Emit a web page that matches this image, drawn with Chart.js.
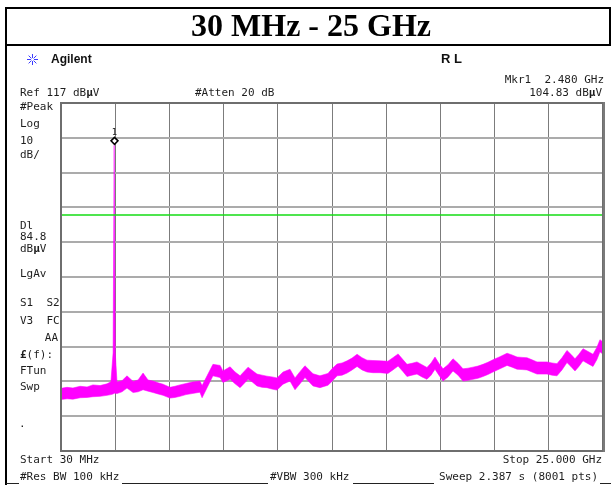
<!DOCTYPE html>
<html>
<head>
<meta charset="utf-8">
<script src="https://cdn.jsdelivr.net/npm/chart.js@4.4.1/dist/chart.umd.min.js"></script>
<style>
  html, body { margin: 0; padding: 0; background: #fff; }
  canvas { display: block; }
</style>
</head>
<body>
<canvas id="js-chart-canvas" width="611" height="485"></canvas>
<script>
// Spectrum analyzer sweep 30 MHz - 25 GHz (peak detector, min/max envelope)

const startFreq = 0.03; // GHz
const stopFreq = 25.0; // GHz
const refLevel = 117; // dBuV
const bottomLevel = 17; // dBuV
const displayLine = 84.8; // dBuV
const markerFreq = 2.48; // GHz
const markerLevel = 104.83; // dBuV

const freqs = [
  0.03, 0.31, 0.58, 0.91, 1.23, 1.50, 1.83, 2.15, 2.33, 2.43, 2.48, 2.53, 2.61, 2.84,
  3.07, 3.35, 3.58, 3.81, 4.04, 4.27, 4.50, 4.73, 5.05, 5.28, 5.51, 5.79, 6.07, 6.43,
  6.53, 6.76, 7.03, 7.36, 7.49, 7.82, 8.05, 8.28, 8.65, 8.83, 9.06, 9.29, 9.52, 9.75,
  9.98, 10.26, 10.58, 10.81, 11.04, 11.27, 11.64, 11.96, 12.33, 12.51, 12.75, 12.98,
  13.21, 13.44, 13.67, 13.90, 14.13, 14.40, 14.73, 15.09, 15.32, 15.56, 15.79, 15.97,
  16.20, 16.43, 16.66, 16.89, 17.08, 17.26, 17.44, 17.63, 17.86, 18.09, 18.32, 18.55,
  18.78, 19.01, 19.24, 19.47, 19.70, 19.93, 20.25, 20.58, 20.81, 21.04, 21.27, 21.50,
  21.73, 21.96, 22.19, 22.42, 22.65, 22.88, 23.11, 23.34, 23.52, 23.71, 23.89, 24.08,
  24.31, 24.54, 24.72, 24.86, 25.00
];

const traceHigh = [
  35.0, 35.3, 35.1, 35.6, 35.4, 36.0, 35.8, 36.3, 36.9, 45.2, 104.83, 45.2, 36.8, 37.2,
  38.6, 37.0, 37.4, 39.4, 37.4, 37.1, 36.6, 36.2, 35.3, 35.6, 36.0, 36.4, 36.8, 37.1,
  35.8, 38.6, 41.9, 41.6, 40.0, 41.2, 39.7, 38.6, 41.1, 40.2, 39.1, 38.8, 38.5, 38.3,
  38.0, 39.7, 40.5, 38.0, 39.8, 41.5, 39.2, 38.6, 39.3, 40.6, 42.0, 42.3,
  42.9, 43.7, 44.8, 43.8, 43.1, 43.0, 42.9, 42.8, 43.8, 44.9, 43.2, 41.9,
  42.2, 42.6, 41.8, 41.0, 42.3, 44.0, 42.2, 40.6, 41.8, 43.5, 42.2, 40.6,
  40.8, 41.1, 41.4, 41.9, 42.5, 43.2, 44.1, 45.1, 44.6, 44.0, 43.9, 43.8,
  43.2, 42.6, 42.6, 42.6, 42.3, 42.1, 43.8, 45.9, 44.8, 43.5, 44.8, 46.4,
  45.6, 44.8, 46.8, 49.0, 48.3
];

const traceLow = [
  31.8, 32.0, 31.9, 32.3, 32.4, 32.6, 32.7, 33.0, 33.2, 33.4, 33.6, 33.6, 33.5, 34.0,
  35.1, 33.8, 34.0, 34.6, 34.2, 33.8, 33.4, 33.0, 32.2, 32.4, 32.7, 33.2, 33.5, 33.9,
  32.3, 35.2, 38.6, 38.1, 36.7, 37.6, 36.3, 35.2, 37.6, 36.9, 35.7, 35.3, 35.2, 34.8,
  34.5, 36.2, 37.1, 34.6, 36.3, 38.1, 35.7, 35.2, 35.9, 37.0, 38.6, 38.8,
  39.4, 40.3, 41.3, 40.3, 39.7, 39.5, 39.5, 39.3, 40.3, 41.4, 39.8, 38.4,
  38.8, 39.1, 38.3, 37.6, 38.8, 40.5, 38.8, 37.1, 38.3, 40.0, 38.8, 37.1,
  37.3, 37.6, 37.9, 38.4, 39.0, 39.7, 40.6, 41.6, 41.1, 40.5, 40.4, 40.3,
  39.7, 39.1, 39.1, 39.1, 38.8, 38.6, 40.3, 42.4, 41.3, 40.0, 41.3, 42.9,
  42.1, 41.3, 43.3, 45.5, 44.8
];

// graticule: 10 divisions each way
const xGrid = [0.03, 2.527, 5.024, 7.521, 10.018, 12.515, 15.012, 17.509, 20.006, 22.503, 25.0];
const yGrid = [17, 27, 37, 47, 57, 67, 77, 87, 97, 107, 117];

const canvasContext = document.querySelector("#js-chart-canvas").getContext("2d");

const MAGENTA = "#ff00ff";
const mono = '11px "DejaVu Sans Mono"';
const monoBold = 'bold 11px "DejaVu Sans Mono"';

function drawRuns(ctx, runs, x, y, align) {
  let width = 0;
  runs.forEach(([t, bold]) => {
    ctx.font = bold ? monoBold : mono;
    width += ctx.measureText(t).width;
  });
  let cx = align === "right" ? x - width : x;
  ctx.textAlign = "left";
  runs.forEach(([t, bold]) => {
    ctx.font = bold ? monoBold : mono;
    ctx.fillText(t, cx, y);
    cx += ctx.measureText(t).width;
  });
}

const screenDraw = {
  id: "screenDraw",

  afterDatasetsDraw(chart) {
    const {
      ctx,
      chartArea: { top, bottom, left, right },
      scales: { x, y },
    } = chart;

    ctx.save();
    // graticule frame
    ctx.strokeStyle = "#6e6e6e";
    ctx.lineWidth = 2;
    ctx.strokeRect(left, top, right - left, bottom - top);
    ctx.fillStyle = "#7a7a7a";
    ctx.fillRect(right, top - 1, 2, bottom - top + 2);

    // marker 1 diamond sitting on the peak
    const mx = Math.round(x.getPixelForValue(markerFreq)) + 0.5;
    const my = y.getPixelForValue(markerLevel);
    ctx.beginPath();
    ctx.moveTo(mx, my - 8);
    ctx.lineTo(mx + 3.5, my - 4.5);
    ctx.lineTo(mx, my - 1);
    ctx.lineTo(mx - 3.5, my - 4.5);
    ctx.closePath();
    ctx.fillStyle = "#fff";
    ctx.fill();
    ctx.strokeStyle = "#000";
    ctx.lineWidth = 1.5;
    ctx.stroke();
    ctx.fillStyle = "#222";
    ctx.font = '9px "DejaVu Sans Mono"';
    ctx.textAlign = "center";
    ctx.textBaseline = "middle";
    ctx.fillText("1", mx, my - 13);
    ctx.restore();
  },

  afterDraw(chart) {
    const ctx = chart.ctx;
    ctx.save();

    // title box
    ctx.strokeStyle = "#000";
    ctx.lineWidth = 2;
    ctx.strokeRect(6, 8, 604, 37);
    ctx.beginPath();
    ctx.moveTo(6, 45);
    ctx.lineTo(6, 485);
    ctx.stroke();
    ctx.fillStyle = "#000";
    ctx.font = 'bold 32px "Liberation Serif"';
    ctx.textAlign = "center";
    ctx.textBaseline = "alphabetic";
    ctx.fillText("30 MHz - 25 GHz", 311, 36);

    // logo
    ctx.strokeStyle = "#3b3bff";
    ctx.lineWidth = 1;
    const sx = 32.5, sy = 59.5;
    for (let i = 0; i < 8; i++) {
      const a = (i * Math.PI) / 4;
      ctx.beginPath();
      ctx.moveTo(sx + Math.cos(a) * 1.5, sy + Math.sin(a) * 1.5);
      ctx.lineTo(sx + Math.cos(a) * 5.5, sy + Math.sin(a) * 5.5);
      ctx.stroke();
    }
    ctx.fillStyle = "#111";
    ctx.textBaseline = "middle";
    ctx.textAlign = "left";
    ctx.font = 'bold 12px "Liberation Sans"';
    ctx.fillText("Agilent", 51, 60);
    ctx.font = 'bold 13px "Liberation Sans"';
    ctx.fillText("R L", 441, 59);

    ctx.fillStyle = "#1e1e1e";
    drawRuns(ctx, [["Mkr1  " + markerFreq.toFixed(3) + " GHz"]], 604, 80, "right");
    drawRuns(ctx, [["Ref " + refLevel + " dB"], ["\u03bc", true], ["V"]], 20, 93, "left");
    drawRuns(ctx, [["#Atten 20 dB"]], 195, 93, "left");
    drawRuns(ctx, [[markerLevel.toFixed(2) + " dB"], ["\u03bc", true], ["V"]], 602, 93, "right");

    // left status panel
    drawRuns(ctx, [["#Peak"]], 20, 107, "left");
    drawRuns(ctx, [["Log"]], 20, 124, "left");
    drawRuns(ctx, [["10"]], 20, 141, "left");
    drawRuns(ctx, [["dB/"]], 20, 155, "left");
    drawRuns(ctx, [["Dl"]], 20, 226, "left");
    drawRuns(ctx, [[displayLine.toFixed(1)]], 20, 237, "left");
    drawRuns(ctx, [["dB"], ["\u03bc", true], ["V"]], 20, 249, "left");
    drawRuns(ctx, [["LgAv"]], 20, 274, "left");
    drawRuns(ctx, [["S1  S2"]], 20, 303, "left");
    drawRuns(ctx, [["V3  FC"]], 20, 321, "left");
    drawRuns(ctx, [["AA"]], 58, 338, "right");
    drawRuns(ctx, [["\u00a3", true], ["(f):"]], 20, 355, "left");
    drawRuns(ctx, [["FTun"]], 20, 371, "left");
    drawRuns(ctx, [["Swp"]], 20, 387, "left");
    drawRuns(ctx, [["."]], 19, 424, "left");

    // bottom annotation
    drawRuns(ctx, [["Start 30 MHz"]], 20, 460, "left");
    drawRuns(ctx, [["Stop " + stopFreq.toFixed(3) + " GHz"]], 602, 460, "right");
    drawRuns(ctx, [["#Res BW 100 kHz"]], 20, 477, "left");
    drawRuns(ctx, [["#VBW 300 kHz"]], 270, 477, "left");
    drawRuns(ctx, [["Sweep 2.387 s (8001 pts)"]], 598, 477, "right");

    ctx.strokeStyle = "#222";
    ctx.lineWidth = 1;
    [[6, 19], [122, 268], [353, 434], [600, 611]].forEach(([a, b]) => {
      ctx.beginPath();
      ctx.moveTo(a, 483.5);
      ctx.lineTo(b, 483.5);
      ctx.stroke();
    });
    ctx.restore();
  },
};

const traceLowPoints = freqs.map((f, i) => ({ x: f, y: traceLow[i] }));
const traceHighPoints = freqs.map((f, i) => ({ x: f, y: traceHigh[i] }));

const data = {
  datasets: [
    {
      label: "Display line",
      data: [
        { x: startFreq, y: displayLine },
        { x: stopFreq, y: displayLine },
      ],
      borderColor: "#14dc14",
      borderWidth: 1.5,
      pointRadius: 0,
      fill: false,
    },
    {
      label: "Trace min",
      data: traceLowPoints,
      borderColor: "rgba(255, 0, 255, 0.55)",
      borderWidth: 1,
      pointRadius: 0,
      fill: false,
    },
    {
      label: "Trace max",
      data: traceHighPoints,
      borderColor: "rgba(255, 0, 255, 0.55)",
      borderWidth: 1,
      backgroundColor: MAGENTA,
      pointRadius: 0,
      fill: "-1",
    },
  ],
};

const options = {
  responsive: false,
  animation: false,
  layout: {
    padding: { left: 61, right: 8, top: 103, bottom: 34 },
  },
  plugins: {
    legend: { display: false },
    tooltip: { enabled: false },
  },
  scales: {
    x: {
      type: "linear",
      min: startFreq,
      max: stopFreq,
      afterBuildTicks: (scale) => {
        scale.ticks = xGrid.map((v) => ({ value: v }));
      },
      ticks: { display: false },
      border: { display: false },
      grid: { color: "#7c7c7c", lineWidth: 1, drawTicks: false },
    },
    y: {
      type: "linear",
      min: bottomLevel,
      max: refLevel,
      afterBuildTicks: (scale) => {
        scale.ticks = yGrid.map((v) => ({ value: v }));
      },
      ticks: { display: false },
      border: { display: false },
      grid: { color: "#ababab", lineWidth: 2, drawTicks: false },
    },
  },
};

const spectrumChart = new Chart(canvasContext, {
  type: "line",
  data: data,
  options: options,
  plugins: [screenDraw],
});
</script>
</body>
</html>
